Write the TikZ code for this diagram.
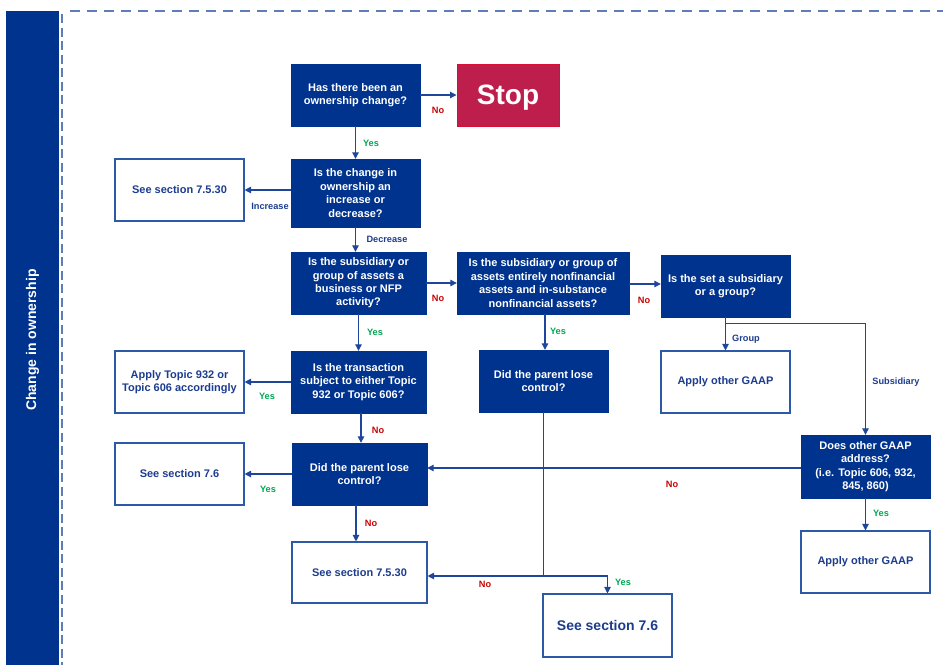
\documentclass[tikz,border=0pt]{standalone}
\usepackage{fontspec}
\setmainfont{Liberation Sans}
\usetikzlibrary{arrows.meta,calc}
\definecolor{dblue}{RGB}{0,51,141}
\definecolor{lineblue}{RGB}{30,70,155}
\definecolor{boxborder}{RGB}{45,90,168}
\definecolor{btext}{RGB}{28,60,142}
\definecolor{dashblue}{RGB}{95,125,185}
\definecolor{stopfill}{RGB}{190,30,75}
\definecolor{stopdraw}{RGB}{215,15,55}
\definecolor{nored}{RGB}{200,0,0}
\definecolor{yesgreen}{RGB}{0,166,81}
\tikzset{
  qbox/.style={fill=dblue, draw=dblue, text=white, font=\bfseries\fontsize{11}{13.4}\selectfont, align=center, inner sep=0pt, minimum width=129pt, minimum height=62pt},
  wbox/.style={fill=white, draw=boxborder, line width=1.1pt, text=btext, font=\bfseries\fontsize{11}{13.4}\selectfont, align=center, inner sep=0pt, minimum width=129pt, minimum height=62pt},
  conn/.style={draw=lineblue, line width=1.1pt},
  arr/.style={conn, -{Triangle[length=6.5pt,width=6.5pt]}},
  lab/.style={font=\bfseries\fontsize{9.2}{11}\selectfont, inner sep=0pt},
  labno/.style={lab, text=nored},
  labyes/.style={lab, text=yesgreen},
  labblue/.style={lab, text=btext},
}
\begin{document}
\begin{tikzpicture}[x=1pt,y=-1pt]
\useasboundingbox (0,0) rectangle (943,665);
% sidebar
\fill[dblue] (6,11) rectangle (59,665);
\node[rotate=90, text=white, font=\bfseries\fontsize{14}{16}\selectfont, inner sep=0pt] (side) at (32.5,340) {Change in ownership};
\draw[dashblue, line width=1.1pt, dash pattern=on 9pt off 4.5pt] (62,14) -- (62,665);
\draw[dashblue, line width=1.1pt, dash pattern=on 10pt off 7pt] (70,11) -- (943,11);

% nodes
\node[qbox, minimum width=129pt, minimum height=62pt] (q1) at (355.5,95) {Has there been an\\ownership change?};
\node[fill=stopfill, draw=stopdraw, line width=1pt, text=white, font=\bfseries\fontsize{28}{30}\selectfont, inner sep=0pt, text depth=0pt, minimum width=102pt, minimum height=62pt] (stop) at (508,95) {Stop};
\node[qbox, minimum height=68pt] (q3) at (355.5,193) {Is the change in\\ownership an\\increase or\\decrease?};
\node[wbox] (s1) at (179.5,190) {See section 7.5.30};
\node[qbox, minimum width=135pt] (q5) at (358.5,283) {Is the subsidiary or\\group of assets a\\business or NFP\\activity?};
\node[qbox, minimum width=172pt] (q6) at (543,283) {Is the subsidiary or group of\\assets entirely nonfinancial\\assets and in-substance\\nonfinancial assets?};
\node[qbox] (q7) at (725.5,286) {Is the set a subsidiary\\or a group?};
\node[wbox] (a1) at (725.5,382) {Apply other GAAP};
\node[qbox, minimum height=63pt] (q9) at (865.5,466.5) {Does other GAAP\\address?\\(i.e. Topic 606, 932,\\845, 860)};
\node[wbox] (a2) at (865.5,562) {Apply other GAAP};
\node[qbox, minimum width=135pt] (q11) at (358.5,382) {Is the transaction\\subject to either Topic\\932 or Topic 606?};
\node[wbox] (p1) at (179.5,382) {Apply Topic 932 or\\Topic 606 accordingly};
\node[qbox, minimum width=135pt] (q13) at (359.5,474) {Did the parent lose\\control?};
\node[wbox] (s2) at (179.5,474) {See section 7.6};
\node[wbox, minimum width=135pt, minimum height=61pt] (s3) at (359.5,572.5) {See section 7.5.30};
\node[qbox] (q16) at (543.5,381) {Did the parent lose\\control?};
\node[wbox, minimum height=63pt, font=\bfseries\fontsize{14}{16}\selectfont] (s4) at (607.5,625.5) {See section 7.6};
\coordinate (j) at (543.5,576);

% connectors
\draw[arr] (q1.east) -- (stop.west);
\draw[arr] (q1.south) -- (q3.north);
\draw[arr] (q3.west |- s1.east) -- (s1.east);
\draw[arr] (q3.south) -- (q3.south |- q5.north);
\draw[arr] (q5.east) -- (q6.west);
\draw[arr] (q6.east |- 0,284) -- (q7.west |- 0,284);
\draw[arr] (q7.south) -- (a1.north);
\draw[arr] (q7.south) -- ++(0,6) -| (q9.north);
\draw[arr] (q9.south) -- (a2.north);
\draw[arr] (q9.west |- 0,468) -- (q13.east |- 0,468);
\draw[arr] (q5.south) -- (q11.north);
\draw[arr] (q11.west) -- (p1.east);
\draw[arr] (q11.south -| 361,0) -- (q13.north -| 361,0);
\draw[arr] (q13.west) -- (s2.east);
\draw[arr] (q13.south -| 356,0) -- (s3.north -| 356,0);
\draw[arr] (q6.south -| 545,0) -- (q16.north -| 545,0);
\draw[conn] (q16.south) -- (j);
\draw[arr] (j) -- (j -| s3.east);
\draw[arr] (j) -| (s4.north);

% labels
\node[labno] (l1) at (438,110) {No};
\node[labyes] (l2) at (371,143) {Yes};
\node[labblue] (l3) at (270,206) {Increase};
\node[labblue] (l4) at (387,239) {Decrease};
\node[labno] (l5) at (438,298) {No};
\node[labno] (l6) at (644,300) {No};
\node[labyes] (l7) at (375,332) {Yes};
\node[labyes] (l8) at (558,331) {Yes};
\node[labblue] (l9) at (746,339) {Group};
\node[labblue] (l10) at (896,382) {Subsidiary};
\node[labyes] (l11) at (267,396) {Yes};
\node[labno] (l12) at (378,430) {No};
\node[labno] (l13) at (672,484) {No};
\node[labyes] (l14) at (268,489) {Yes};
\node[labyes] (l15) at (881,513) {Yes};
\node[labno] (l16) at (371,523) {No};
\node[labno] (l17) at (485,584) {No};
\node[labyes] (l18) at (623,582) {Yes};
\end{tikzpicture}
\end{document}
